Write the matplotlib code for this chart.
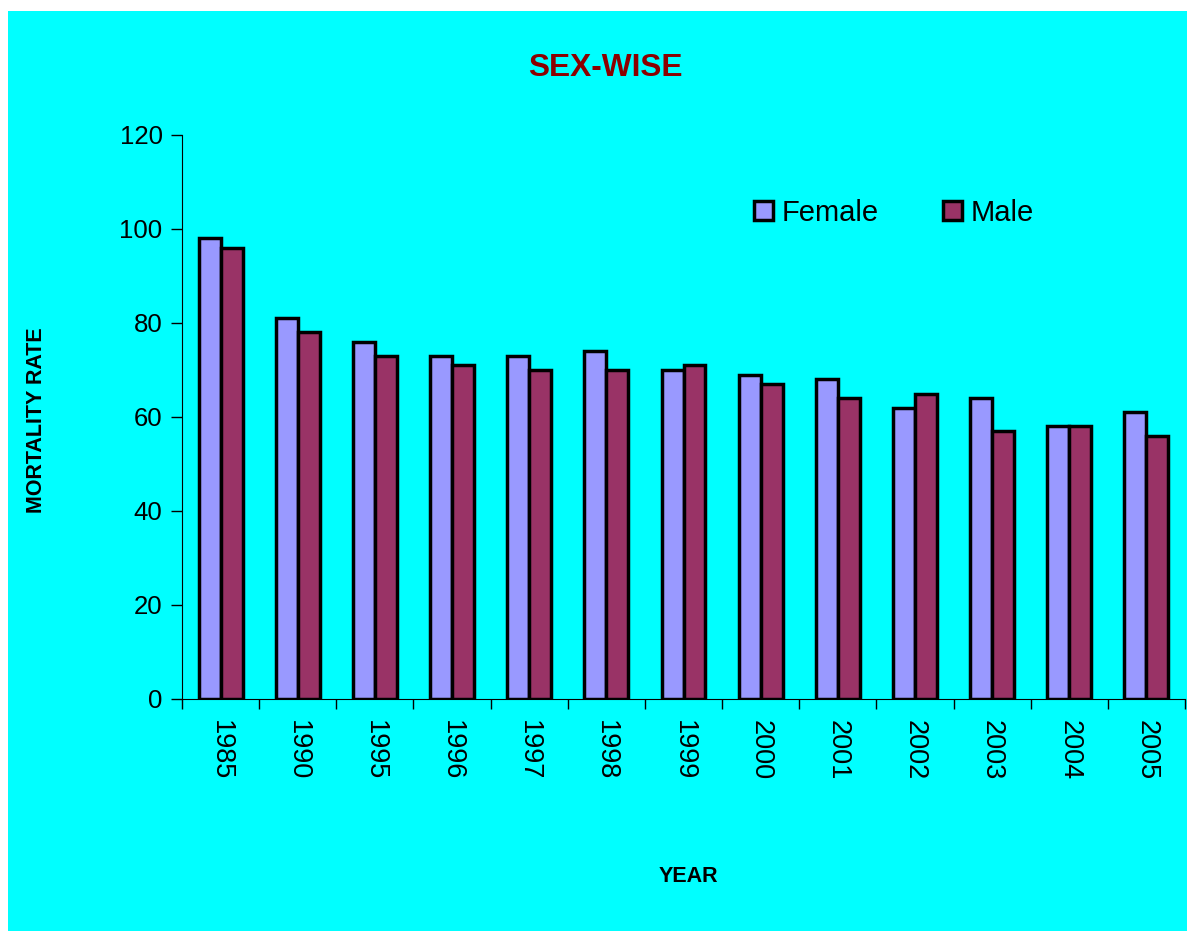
import numpy as np
import matplotlib.pyplot as plt
from matplotlib.patches import Rectangle

plt.rcParams['font.family'] = ['Liberation Sans', 'DejaVu Sans']

years = ['1985', '1990', '1995', '1996', '1997', '1998', '1999',
         '2000', '2001', '2002', '2003', '2004', '2005']
female = [98, 81, 76, 73, 73, 74, 70, 69, 68, 62, 64, 58, 61]
male = [96, 78, 73, 71, 70, 70, 71, 67, 64, 65, 57, 58, 56]

fig = plt.figure(figsize=(11.87, 9.31), dpi=100, facecolor='white')
# cyan chart area with a thin white margin on the left and top
fig.patches.append(Rectangle((8 / 1187, 0), 1, 1 - 11 / 931,
                             transform=fig.transFigure, facecolor='#00FFFF',
                             edgecolor='none', zorder=-1))

ax = fig.add_axes([182 / 1187, 1 - 699 / 931, 1003 / 1187, 564 / 931])
ax.set_facecolor('none')

x = np.arange(len(years)) + 0.5
w = 0.285
ax.bar(x - w / 2, female, w, color='#9999FF', edgecolor='black',
       linewidth=2.5, label='Female', zorder=3)
ax.bar(x + w / 2, male, w, color='#993366', edgecolor='black',
       linewidth=2.5, label='Male', zorder=3)

ax.set_xlim(0, len(years))
ax.set_ylim(0, 120)
ax.set_yticks(range(0, 121, 20))
ax.tick_params(axis='y', direction='out', length=8, width=1,
               labelsize=18.5, pad=6)

ax.set_xticks(np.arange(len(years) + 1))
ax.set_xticklabels([])
ax.tick_params(axis='x', which='major', direction='out', length=7, width=1)
ax.set_xticks(x, minor=True)
ax.set_xticklabels(years, minor=True, rotation=270, fontsize=19.5)
ax.tick_params(axis='x', which='minor', length=0, pad=15)

for side in ('top', 'right'):
    ax.spines[side].set_visible(False)

fig.text(605 / 1187, 1 - 68 / 931, 'SEX-WISE', ha='center', va='center',
         fontsize=22.8, fontweight='bold', color='#8B0000')
fig.text(37 / 1187, 1 - 420 / 931, 'MORTALITY RATE', ha='center',
         va='center', rotation=90, fontsize=15.5, fontweight='bold')
fig.text(688 / 1187, 1 - 877 / 931, 'YEAR', ha='center', va='center',
         fontsize=15.5, fontweight='bold')

leg = ax.legend(ncol=2, frameon=False, fontsize=21,
                loc='center left', bbox_to_anchor=(754 / 1187, 1 - 213 / 931),
                bbox_transform=fig.transFigure, handlelength=0.65,
                handleheight=0.65, handletextpad=0.3, columnspacing=2.2,
                borderpad=0, borderaxespad=0)

fig.savefig('out.png', dpi=100, facecolor=fig.get_facecolor())
